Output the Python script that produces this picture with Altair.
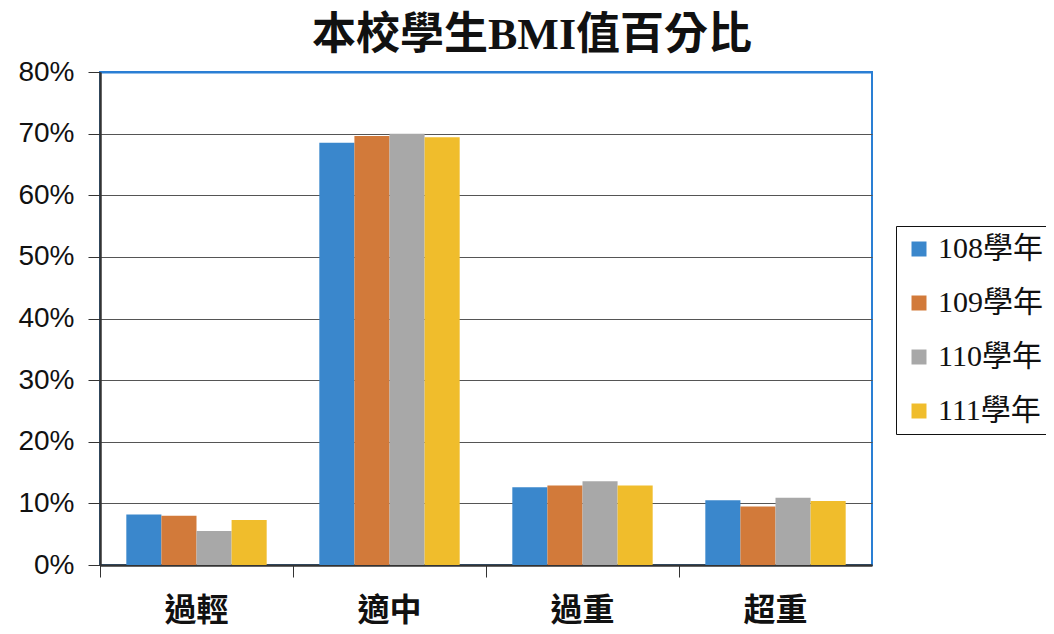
import altair as alt
import pandas as pd

categories = ["過輕", "適中", "過重", "超重"]
years = ["108學年", "109學年", "110學年", "111學年"]
v108 = [8.2, 68.5, 12.6, 10.5]
v109 = [8.0, 69.6, 12.9, 9.5]
v110 = [5.5, 70.0, 13.6, 10.9]
v111 = [7.3, 69.4, 12.9, 10.4]
colors = ["#3a87cc", "#d27a3a", "#a8a8a8", "#f0bd2c"]
y_ticks = [0, 10, 20, 30, 40, 50, 60, 70, 80]

rows = []
for yr, vals in zip(years, [v108, v109, v110, v111]):
    for c, v in zip(categories, vals):
        rows.append({"cat": c, "year": yr, "pct": v})
df = pd.DataFrame(rows)

SERIF_CJK = "Liberation Serif, Noto Sans CJK TC"
FRAME_BLUE = "#2a7fd4"

chart = alt.Chart(df).mark_bar().encode(
    x=alt.X(
        "cat:N", sort=categories, title=None,
        scale=alt.Scale(paddingInner=0, paddingOuter=0),
        axis=alt.Axis(
            bandPosition=0, labelAngle=0, ticks=True, tickSize=12,
            tickColor="#333333", domainColor="#333333", domainWidth=2.5,
            labelFont=SERIF_CJK, labelFontSize=32, labelFontWeight="bold",
            labelColor="#111111", labelPadding=18, grid=False,
        ),
    ),
    xOffset=alt.XOffset("year:N", sort=years,
                        scale=alt.Scale(paddingInner=0, paddingOuter=0.75)),
    y=alt.Y(
        "pct:Q", title=None, scale=alt.Scale(domain=[0, 80], nice=False),
        axis=alt.Axis(
            values=y_ticks, labelExpr="datum.value + '%'", tickSize=12,
            tickColor="#333333", domainColor="#333333", domainWidth=2.5,
            labelFont="Liberation Sans", labelFontSize=28, labelColor="#111111",
            labelPadding=14, grid=True,
            gridColor=alt.condition("datum.value == 80", alt.value(FRAME_BLUE), alt.value("#555555")),
            gridWidth=alt.condition("datum.value == 80", alt.value(2), alt.value(1)),
        ),
    ),
    color=alt.Color(
        "year:N", sort=years,
        scale=alt.Scale(domain=years, range=colors),
        legend=alt.Legend(
            title=None, orient="none", legendX=796, legendY=154,
            symbolType="square", symbolSize=225, symbolStrokeWidth=0,
            labelFont=SERIF_CJK, labelFontSize=30, labelColor="#111111",
            labelLimit=400, rowPadding=24, padding=8, labelOffset=4,
            strokeColor="#111111", fillColor="white",
        ),
    ),
).properties(
    width=772, height=493,
    background="white",
    title=alt.TitleParams(
        "本校學生BMI值百分比", font=SERIF_CJK, fontSize=44, fontWeight="bold",
        color="#111111", anchor="middle", dx=46, offset=0,
    ),
    autosize=alt.AutoSizeParams(type="none"),
    padding={"left": 92, "top": 64, "right": 174, "bottom": 61},
).configure_view(
    stroke=FRAME_BLUE, strokeWidth=2
)

chart.save("out.html", embed_options={"renderer": "svg", "actions": False})
